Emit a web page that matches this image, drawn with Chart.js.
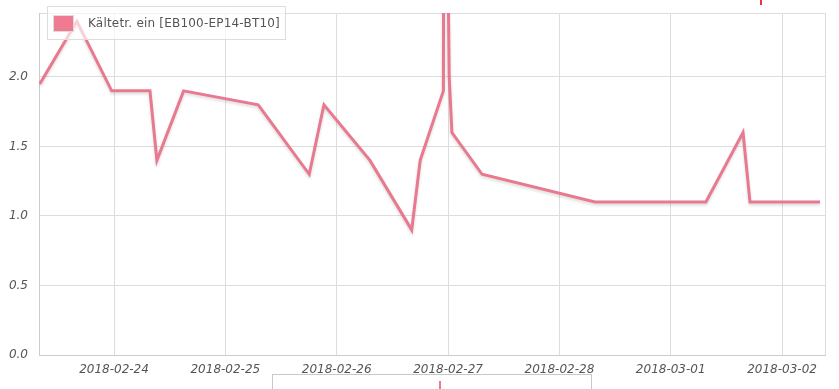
<!DOCTYPE html>
<html>
<head>
<meta charset="utf-8">
<script src="https://cdn.jsdelivr.net/npm/chart.js@4/dist/chart.umd.min.js"></script>
<style>
  html, body { margin: 0; padding: 0; background: #fff; }
  #wrap { position: relative; width: 839px; height: 389px; overflow: hidden; }
  #legend {
    position: absolute; left: 47px; top: 6px; width: 239px; height: 34px;
    border: 1px solid #ddd; background: rgba(255,255,255,0.65);
    font: 12px "DejaVu Sans", sans-serif; color: #555; box-sizing: border-box;
    letter-spacing: 0.2px;
  }
  #legend .sw {
    position: absolute; left: 5px; top: 8px; width: 21px; height: 17px;
    background: #f07a92; border: 1px solid #ddd; box-sizing: border-box;
  }
  #legend .tx { position: absolute; left: 40px; top: 9px; white-space: nowrap; }
  #nav {
    position: absolute; left: 272px; top: 374px; width: 320px; height: 30px;
    border: 1px solid #c8c8c8; box-sizing: border-box;
  }
  #nav .mk { position: absolute; left: 166px; top: 6px; width: 2px; height: 20px; background: #e8798f; }
  #dot { position: absolute; left: 760px; top: 0; width: 2px; height: 5px; background: #e33; }
</style>
</head>
<body>
<div id="wrap">
  <canvas id="chart" width="839" height="389"></canvas>
  <div id="legend"><div class="sw"></div><div class="tx">Kältetr. ein [EB100-EP14-BT10]</div></div>
  <div id="nav"><div class="mk"></div></div>
  <div id="dot"></div>
</div>
<script>
const seriesLabel = 'Kältetr. ein [EB100-EP14-BT10]';

const times = [
  '2018-02-23T08:00', '2018-02-23T16:00', '2018-02-23T23:30', '2018-02-24T07:45',
  '2018-02-24T09:15', '2018-02-24T15:00', '2018-02-25T07:05', '2018-02-25T18:05',
  '2018-02-25T21:15', '2018-02-26T07:10', '2018-02-26T16:10', '2018-02-26T18:00',
  '2018-02-26T23:00', '2018-02-26T23:10', '2018-02-27T00:15', '2018-02-27T00:50',
  '2018-02-27T07:20', '2018-02-28T07:40', '2018-03-01T07:35', '2018-03-01T15:35',
  '2018-03-01T17:05', '2018-03-02T08:10'
];
const values = [
  1.95, 2.4, 1.9, 1.9,
  1.4, 1.9, 1.8, 1.3,
  1.8, 1.4, 0.9, 1.4,
  1.9, 5.3, 2.0, 1.6,
  1.3, 1.1, 1.1, 1.6,
  1.1, 1.1
];
const dayTicks = ['2018-02-24', '2018-02-25', '2018-02-26', '2018-02-27', '2018-02-28', '2018-03-01', '2018-03-02'];
const xStart = '2018-02-23T07:50';
const xEnd = '2018-03-02T09:15';
const yTicks = [0, 0.5, 1.0, 1.5, 2.0];
const yMax = 2.46;

const toMs = s => Date.parse(s + ':00Z');
const dayMs = dayTicks.map(d => toMs(d + 'T00:00'));

const shadow = {
  id: 'shadow',
  beforeDatasetDraw(chart) {
    const c = chart.ctx;
    c.save();
    c.shadowColor = 'rgba(0,0,0,0.14)';
    c.shadowBlur = 3;
    c.shadowOffsetY = 2;
  },
  afterDatasetDraw(chart) { chart.ctx.restore(); }
};

const tickFont = { family: 'DejaVu Sans', size: 12, style: 'italic' };

new Chart(document.querySelector('#chart'), {
  type: 'line',
  data: {
    datasets: [{
      label: seriesLabel,
      data: times.map((t, i) => ({ x: toMs(t), y: values[i] })),
      borderColor: '#e8798f',
      borderWidth: 3,
      pointRadius: 0,
      tension: 0,
      fill: false
    }]
  },
  options: {
    responsive: false,
    animation: false,
    layout: { padding: { top: 13, right: 14, left: 0, bottom: 0 } },
    plugins: { legend: { display: false }, tooltip: { enabled: false } },
    scales: {
      x: {
        type: 'linear',
        min: toMs(xStart),
        max: toMs(xEnd),
        afterBuildTicks: s => {
          s.ticks = [s.min].concat(dayMs, [s.max]).map(v => ({ value: v }));
        },
        afterFit: s => { s.height = 34; s.paddingLeft = 0; s.paddingRight = 0; },
        border: { color: '#ccc' },
        grid: { color: '#ddd', drawTicks: false },
        ticks: {
          padding: 8,
          color: '#555',
          font: tickFont,
          maxRotation: 0,
          autoSkip: false,
          callback: v => {
            const i = dayMs.indexOf(v);
            return i >= 0 ? dayTicks[i] : '';
          }
        }
      },
      y: {
        min: 0,
        max: yMax,
        afterBuildTicks: s => {
          s.ticks = yTicks.concat([yMax]).map(v => ({ value: v }));
        },
        afterFit: s => { s.width = 39; s.paddingTop = 0; s.paddingBottom = 0; },
        border: { color: '#ccc' },
        grid: { color: '#ddd', drawTicks: false },
        ticks: {
          padding: 11,
          color: '#555',
          font: tickFont,
          callback: v => (yTicks.includes(v) ? v.toFixed(1) : '')
        }
      }
    }
  },
  plugins: [shadow]
});
</script>
</body>
</html>
